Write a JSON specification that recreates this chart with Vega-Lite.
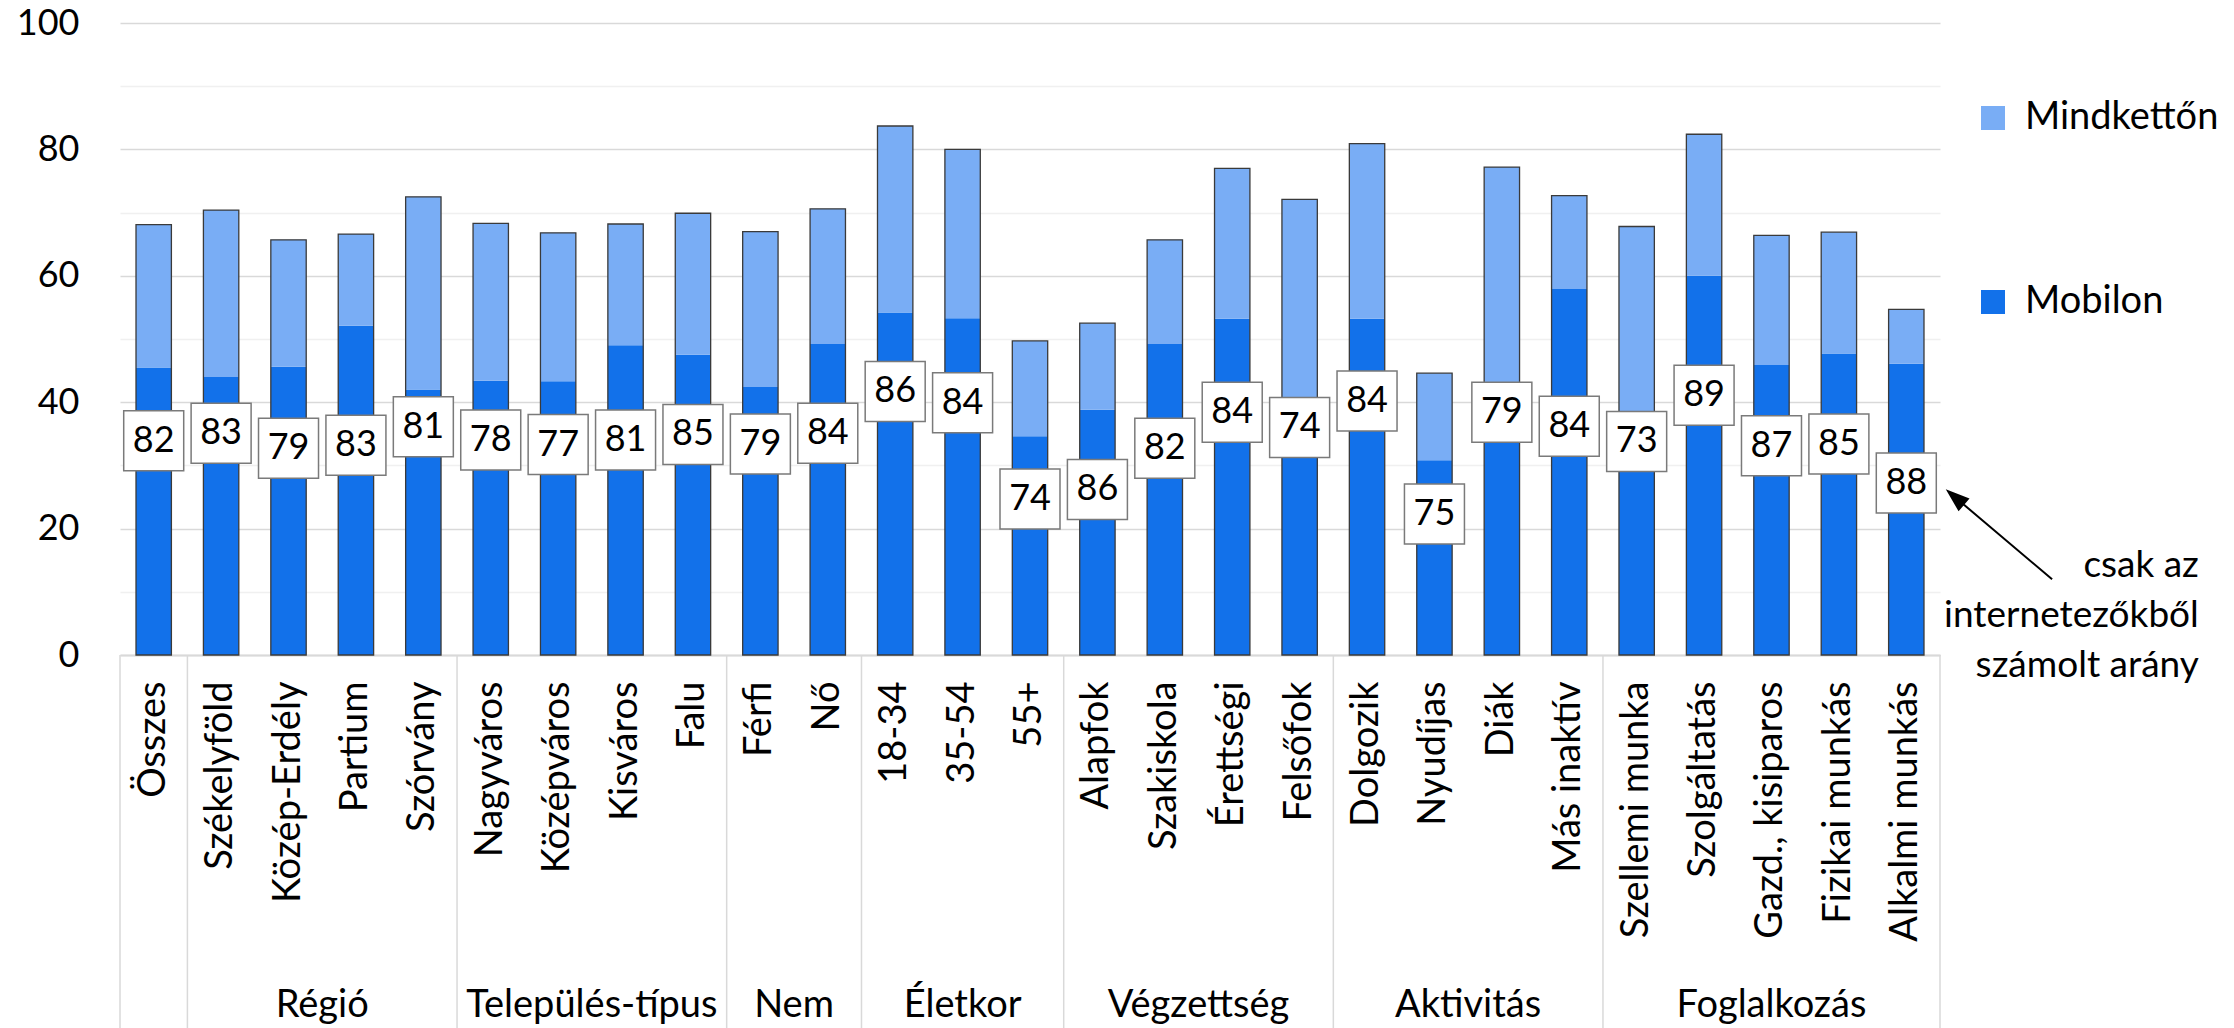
{
  "$schema": "https://vega.github.io/schema/vega-lite/v6.json",
  "width": 1820,
  "height": 632,
  "autosize": "none",
  "padding": {"left": 120, "top": 23, "right": 294, "bottom": 373},
  "datasets": {
    "adatok": [
      {"kat": "Összes", "Mobilon": 45.5, "Mindkettőn": 22.6, "cimke": 82, "cimke_y": 33.9},
      {"kat": "Székelyföld", "Mobilon": 44.0, "Mindkettőn": 26.4, "cimke": 83, "cimke_y": 35.1},
      {"kat": "Közép-Erdély", "Mobilon": 45.6, "Mindkettőn": 20.1, "cimke": 79, "cimke_y": 32.7},
      {"kat": "Partium", "Mobilon": 52.1, "Mindkettőn": 14.5, "cimke": 83, "cimke_y": 33.2},
      {"kat": "Szórvány", "Mobilon": 42.0, "Mindkettőn": 30.5, "cimke": 81, "cimke_y": 36.1},
      {"kat": "Nagyváros", "Mobilon": 43.4, "Mindkettőn": 24.9, "cimke": 78, "cimke_y": 34.0},
      {"kat": "Középváros", "Mobilon": 43.3, "Mindkettőn": 23.5, "cimke": 77, "cimke_y": 33.3},
      {"kat": "Kisváros", "Mobilon": 49.0, "Mindkettőn": 19.2, "cimke": 81, "cimke_y": 34.0},
      {"kat": "Falu", "Mobilon": 47.5, "Mindkettőn": 22.4, "cimke": 85, "cimke_y": 34.9},
      {"kat": "Férfi", "Mobilon": 42.4, "Mindkettőn": 24.6, "cimke": 79, "cimke_y": 33.4},
      {"kat": "Nő", "Mobilon": 49.2, "Mindkettőn": 21.4, "cimke": 84, "cimke_y": 35.1},
      {"kat": "18-34", "Mobilon": 54.2, "Mindkettőn": 29.5, "cimke": 86, "cimke_y": 41.7},
      {"kat": "35-54", "Mobilon": 53.3, "Mindkettőn": 26.7, "cimke": 84, "cimke_y": 39.9},
      {"kat": "55+", "Mobilon": 34.6, "Mindkettőn": 15.1, "cimke": 74, "cimke_y": 24.7},
      {"kat": "Alapfok", "Mobilon": 38.8, "Mindkettőn": 13.7, "cimke": 86, "cimke_y": 26.2},
      {"kat": "Szakiskola", "Mobilon": 49.2, "Mindkettőn": 16.5, "cimke": 82, "cimke_y": 32.7},
      {"kat": "Érettségi", "Mobilon": 53.2, "Mindkettőn": 23.8, "cimke": 84, "cimke_y": 38.4},
      {"kat": "Felsőfok", "Mobilon": 40.0, "Mindkettőn": 32.1, "cimke": 74, "cimke_y": 36.0},
      {"kat": "Dolgozik", "Mobilon": 53.2, "Mindkettőn": 27.7, "cimke": 84, "cimke_y": 40.2},
      {"kat": "Nyudíjas", "Mobilon": 30.8, "Mindkettőn": 13.8, "cimke": 75, "cimke_y": 22.3},
      {"kat": "Diák", "Mobilon": 43.0, "Mindkettőn": 34.2, "cimke": 79, "cimke_y": 38.4},
      {"kat": "Más inaktív", "Mobilon": 57.9, "Mindkettőn": 14.8, "cimke": 84, "cimke_y": 36.2},
      {"kat": "Szellemi munka", "Mobilon": 38.0, "Mindkettőn": 29.8, "cimke": 73, "cimke_y": 33.8},
      {"kat": "Szolgáltatás", "Mobilon": 60.0, "Mindkettőn": 22.4, "cimke": 89, "cimke_y": 41.1},
      {"kat": "Gazd., kisiparos", "Mobilon": 45.9, "Mindkettőn": 20.5, "cimke": 87, "cimke_y": 33.1},
      {"kat": "Fizikai munkás", "Mobilon": 47.7, "Mindkettőn": 19.2, "cimke": 85, "cimke_y": 33.4},
      {"kat": "Alkalmi munkás", "Mobilon": 46.1, "Mindkettőn": 8.6, "cimke": 88, "cimke_y": 27.2}
    ],
    "csoportok": [
      {"nev": "", "elso": "Összes", "horgony": "Összes", "paros": false},
      {"nev": "Régió", "elso": "Székelyföld", "horgony": "Partium", "paros": true},
      {"nev": "Település-típus", "elso": "Nagyváros", "horgony": "Kisváros", "paros": true},
      {"nev": "Nem", "elso": "Férfi", "horgony": "Nő", "paros": true},
      {"nev": "Életkor", "elso": "18-34", "horgony": "35-54", "paros": false},
      {"nev": "Végzettség", "elso": "Alapfok", "horgony": "Érettségi", "paros": true},
      {"nev": "Aktivitás", "elso": "Dolgozik", "horgony": "Diák", "paros": true},
      {"nev": "Foglalkozás", "elso": "Szellemi munka", "horgony": "Gazd., kisiparos", "paros": false}
    ]
  },
  "config": {
    "font": "Lato",
    "view": {"stroke": null},
    "axis": {"labelFont": "Lato", "labelColor": "#000000", "title": null},
    "legend": {
      "orient": "none",
      "legendX": 1854,
      "legendY": 76,
      "symbolType": "square",
      "symbolSize": 576,
      "symbolStrokeWidth": 0,
      "labelFont": "Lato",
      "labelFontSize": 38,
      "labelColor": "#000000",
      "labelOffset": 13,
      "labelLimit": 1000,
      "rowPadding": 146,
      "title": null
    }
  },
  "layer": [
    {
      "data": {"name": "adatok"},
      "transform": [{"fold": ["Mobilon", "Mindkettőn"], "as": ["sorozat", "ertek"]}],
      "mark": {"type": "bar", "width": {"band": 0.525}},
      "encoding": {
        "x": {
          "field": "kat", "type": "nominal", "title": null,
          "scale": {
            "domain": ["Összes", "Székelyföld", "Közép-Erdély", "Partium", "Szórvány", "Nagyváros", "Középváros", "Kisváros", "Falu", "Férfi", "Nő", "18-34", "35-54", "55+", "Alapfok", "Szakiskola", "Érettségi", "Felsőfok", "Dolgozik", "Nyudíjas", "Diák", "Más inaktív", "Szellemi munka", "Szolgáltatás", "Gazd., kisiparos", "Fizikai munkás", "Alkalmi munkás"],
            "paddingInner": 0, "paddingOuter": 0
          },
          "axis": {
            "labelAngle": -90, "labelFontSize": 38, "labelPadding": 26, "ticks": false,
            "domainColor": "#d9d9d9", "domainWidth": 2, "labelLimit": 1000,
            "labelOverlap": false, "grid": false, "title": null
          }
        },
        "y": {
          "field": "ertek", "type": "quantitative", "stack": "zero", "title": null,
          "scale": {"domain": [0, 100], "nice": false},
          "axis": {
            "values": [0, 10, 20, 30, 40, 50, 60, 70, 80, 90, 100],
            "labelExpr": "datum.value % 20 === 0 ? datum.label : ''",
            "labelFontSize": 36, "labelPadding": 41, "domain": false, "ticks": false,
            "gridColor": {"condition": {"test": "datum.value % 20 === 0", "value": "#d9d9d9"}, "value": "#f0f0f0"},
            "gridWidth": 1.5, "title": null
          }
        },
        "color": {
          "field": "sorozat", "type": "nominal",
          "scale": {"domain": ["Mindkettőn", "Mobilon"], "range": ["#79adf5", "#1271ea"]}
        },
        "order": {"field": "sorozat", "sort": "descending"}
      }
    },
    {
      "data": {"name": "csoportok"},
      "mark": {"type": "rule", "stroke": "#d9d9d9", "strokeWidth": 1.5},
      "encoding": {
        "x": {"field": "elso", "type": "nominal", "bandPosition": 0, "title": null},
        "y": {"datum": 0, "type": "quantitative", "title": null},
        "y2": {"datum": -59}
      }
    },
    {
      "data": {"values": [{}]},
      "mark": {"type": "rule", "stroke": "#d9d9d9", "strokeWidth": 1.5},
      "encoding": {
        "x": {"datum": "Alkalmi munkás", "type": "nominal", "bandPosition": 1, "title": null},
        "y": {"datum": 0, "type": "quantitative", "title": null},
        "y2": {"datum": -59}
      }
    },
    {
      "data": {"name": "adatok"},
      "transform": [{"fold": ["Mobilon", "Mindkettőn"], "as": ["sorozat", "ertek"]}],
      "mark": {"type": "bar", "width": {"band": 0.525}, "fill": "#ffffff", "fillOpacity": 0, "stroke": "#3a3a3a", "strokeWidth": 1.3},
      "encoding": {
        "x": {"field": "kat", "type": "nominal", "title": null},
        "y": {"aggregate": "sum", "field": "ertek", "type": "quantitative", "stack": null, "title": null}
      }
    },
    {
      "data": {"name": "adatok"},
      "mark": {"type": "point", "shape": "square", "size": 3600, "filled": false, "fill": "#ffffff", "fillOpacity": 1, "stroke": "#7a7a7a", "strokeWidth": 1.5, "opacity": 1},
      "encoding": {
        "x": {"field": "kat", "type": "nominal", "title": null},
        "y": {"field": "cimke_y", "type": "quantitative", "title": null}
      }
    },
    {
      "data": {"name": "adatok"},
      "mark": {"type": "text", "fontSize": 36, "baseline": "middle", "align": "center", "color": "#000000", "font": "Lato"},
      "encoding": {
        "x": {"field": "kat", "type": "nominal", "title": null},
        "y": {"field": "cimke_y", "type": "quantitative", "title": null},
        "text": {"field": "cimke", "type": "quantitative"}
      }
    },
    {
      "data": {"name": "csoportok"},
      "transform": [{"filter": "datum.nev !== '' && datum.paros"}],
      "mark": {"type": "text", "fontSize": 38, "baseline": "middle", "align": "center", "color": "#000000", "font": "Lato"},
      "encoding": {
        "x": {"field": "horgony", "type": "nominal", "bandPosition": 0, "title": null},
        "y": {"datum": -55.5, "type": "quantitative", "title": null},
        "text": {"field": "nev"}
      }
    },
    {
      "data": {"name": "csoportok"},
      "transform": [{"filter": "datum.nev !== '' && !datum.paros"}],
      "mark": {"type": "text", "fontSize": 38, "baseline": "middle", "align": "center", "color": "#000000", "font": "Lato"},
      "encoding": {
        "x": {"field": "horgony", "type": "nominal", "bandPosition": 0.5, "title": null},
        "y": {"datum": -55.5, "type": "quantitative", "title": null},
        "text": {"field": "nev"}
      }
    },
    {
      "data": {"values": [{}]},
      "mark": {"type": "point", "shape": "M0,0L1.065,1.83L1.975,0.768Z M0,0L10.4,8.8", "size": 400, "filled": false, "fill": "#000000", "fillOpacity": 1, "stroke": "#000000", "strokeWidth": 2, "opacity": 1},
      "encoding": {
        "x": {"datum": "Alkalmi munkás", "type": "nominal", "bandPosition": 1.12, "title": null},
        "y": {"datum": 25.9, "type": "quantitative", "title": null}
      }
    },
    {
      "data": {"values": [{}]},
      "mark": {"type": "text", "fontSize": 37, "align": "right", "baseline": "middle", "lineBreak": "\n", "lineHeight": 50, "color": "#000000", "font": "Lato", "text": "csak az\ninternetezőkből\nszámolt arány"},
      "encoding": {
        "x": {"datum": "Alkalmi munkás", "type": "nominal", "bandPosition": 4.84, "title": null},
        "y": {"datum": 14.1, "type": "quantitative", "title": null}
      }
    }
  ]
}
